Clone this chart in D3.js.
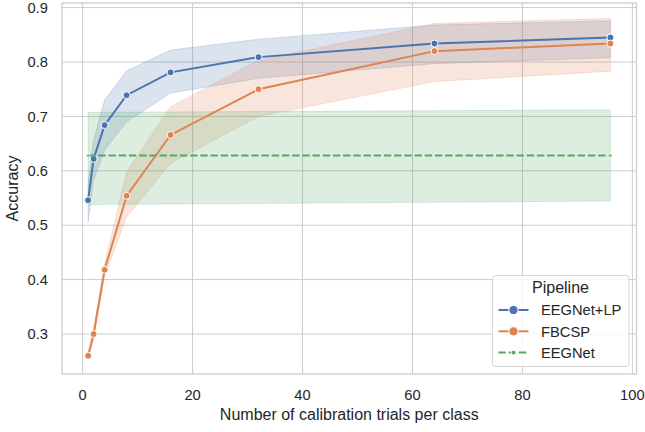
<!DOCTYPE html>
<html>
<head>
<meta charset="utf-8">
<script src="https://cdn.jsdelivr.net/npm/d3@7"></script>
<style>
  body { margin: 0; background: #fff; }
  text { font-family: "Liberation Sans", Arial, sans-serif; fill: #262626; }
</style>
</head>
<body>
<svg width="645" height="432"></svg>
<script>
// values
const trials = [1, 2, 4, 8, 16, 32, 64, 96];

const lpMean = [0.546, 0.622, 0.684, 0.739, 0.781, 0.809, 0.834, 0.845];
const lpLow  = [0.506, 0.583, 0.638, 0.690, 0.743, 0.770, 0.797, 0.808];
const lpHigh = [0.578, 0.657, 0.730, 0.784, 0.822, 0.842, 0.868, 0.876];

const fbMean = [0.260, 0.300, 0.418, 0.554, 0.666, 0.750, 0.820, 0.834];
const fbLow  = [0.255, 0.290, 0.406, 0.515, 0.614, 0.700, 0.764, 0.783];
const fbHigh = [0.264, 0.310, 0.428, 0.598, 0.718, 0.803, 0.871, 0.880];

const eegTrials = [1, 96];
const eegMean = [0.628, 0.628];
const eegLow  = [0.538, 0.5445];
const eegHigh = [0.7075, 0.712];

const xTicks = [0, 20, 40, 60, 80, 100];
const yTicks = [0.3, 0.4, 0.5, 0.6, 0.7, 0.8, 0.9];
const pipelines = ["EEGNet+LP", "FBCSP", "EEGNet"];

const colors = {"EEGNet+LP": "#4c72b0", "FBCSP": "#dd8452", "EEGNet": "#55a868"};

const svg = d3.select("svg");
const pLeft = 62, pRight = 636.5, pTop = 3, pBottom = 374;

const x = d3.scaleLinear().domain([-3.75, 100.75]).range([pLeft, pRight]);
const y = d3.scaleLinear().domain([0.2265, 0.9085]).range([pBottom, pTop]);

// grid
svg.append("g").selectAll("line").data(xTicks).enter().append("line")
  .attr("x1", d => x(d)).attr("x2", d => x(d)).attr("y1", pTop).attr("y2", pBottom)
  .attr("stroke", "#cccccc").attr("stroke-width", 1);
svg.append("g").selectAll("line").data(yTicks).enter().append("line")
  .attr("x1", pLeft).attr("x2", pRight).attr("y1", d => y(d)).attr("y2", d => y(d))
  .attr("stroke", "#cccccc").attr("stroke-width", 1);

const series = [
  {name: "EEGNet+LP", xs: trials, mean: lpMean, low: lpLow, high: lpHigh},
  {name: "FBCSP", xs: trials, mean: fbMean, low: fbLow, high: fbHigh},
  {name: "EEGNet", xs: eegTrials, mean: eegMean, low: eegLow, high: eegHigh}
];

const area = d3.area().x(d => x(d.x)).y0(d => y(d.lo)).y1(d => y(d.hi));
const line = d3.line().x(d => x(d.x)).y(d => y(d.m));

function rows(s) {
  return s.xs.map((v, i) => ({x: v, m: s.mean[i], lo: s.low[i], hi: s.high[i]}));
}

// bands below lines
series.forEach(s => {
  svg.append("path").datum(rows(s)).attr("d", area)
    .attr("fill", colors[s.name]).attr("fill-opacity", 0.2)
    .attr("stroke", colors[s.name]).attr("stroke-opacity", 0.2).attr("stroke-width", 1);
});

series.forEach(s => {
  const c = colors[s.name];
  const dashed = s.name == "EEGNet";
  svg.append("path").datum(rows(s)).attr("d", line)
    .attr("fill", "none").attr("stroke", c).attr("stroke-width", 2)
    .attr("stroke-dasharray", dashed ? "7.4,2.8" : null);
  svg.append("g").selectAll("circle").data(rows(s)).enter().append("circle")
    .attr("cx", d => x(d.x)).attr("cy", d => y(d.m))
    .attr("r", dashed ? 1.6 : 3.5)
    .attr("fill", c).attr("stroke", "white").attr("stroke-width", dashed ? 0.8 : 1);
});

// spines
svg.append("rect").attr("x", pLeft).attr("y", pTop).attr("width", pRight - pLeft).attr("height", pBottom - pTop)
  .attr("fill", "none").attr("stroke", "#cccccc").attr("stroke-width", 1.3);

// tick labels
svg.append("g").selectAll("text").data(xTicks).enter().append("text")
  .attr("x", d => x(d)).attr("y", 400).attr("text-anchor", "middle")
  .style("font-size", "14.7px").text(d => d);
svg.append("g").selectAll("text").data(yTicks).enter().append("text")
  .attr("x", 48).attr("y", d => y(d) + 5.2).attr("text-anchor", "end")
  .style("font-size", "14.7px").text(d => d.toFixed(1));

svg.append("text").attr("x", (pLeft + pRight) / 2).attr("y", 420).attr("text-anchor", "middle")
  .style("font-size", "16px").text("Number of calibration trials per class");
svg.append("text").attr("transform", "translate(18," + ((pTop + pBottom) / 2) + ") rotate(-90)")
  .attr("text-anchor", "middle").style("font-size", "16px").text("Accuracy");

// legend
const lg = svg.append("g");
lg.append("rect").attr("x", 492.5).attr("y", 275.5).attr("width", 136.5).attr("height", 91)
  .attr("rx", 3).attr("fill", "white").attr("fill-opacity", 0.8)
  .attr("stroke", "#d5d5d5").attr("stroke-width", 1);
lg.append("text").attr("x", 560.5).attr("y", 293).attr("text-anchor", "middle")
  .style("font-size", "16px").text("Pipeline");
pipelines.forEach((p, i) => {
  const cy = 310 + i * 21.3;
  const c = colors[p];
  lg.append("line").attr("x1", 498.5).attr("x2", 528.5).attr("y1", cy).attr("y2", cy)
    .attr("stroke", c).attr("stroke-width", 2)
    .attr("stroke-dasharray", p == "EEGNet" ? "7.4,2.8" : null);
  lg.append("circle").attr("cx", 513.5).attr("cy", cy).attr("r", p == "EEGNet" ? 2.4 : 4.6)
    .attr("fill", c).attr("stroke", "white").attr("stroke-width", 1);
  lg.append("text").attr("x", 541).attr("y", cy + 5.2).style("font-size", "14.7px").text(p);
});
</script>
</body>
</html>
